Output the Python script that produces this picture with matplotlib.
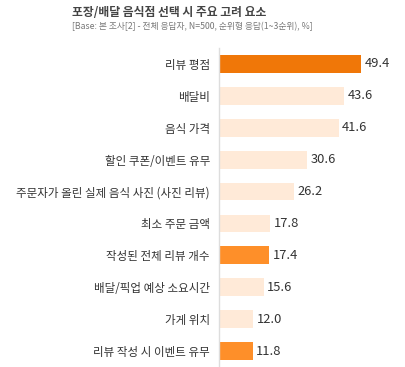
import matplotlib
matplotlib.use("Agg")
import matplotlib.pyplot as plt

plt.rcParams['font.family'] = ['Noto Sans CJK KR', 'DejaVu Sans']

categories = [
    "리뷰 평점",
    "배달비",
    "음식 가격",
    "할인 쿠폰/이벤트 유무",
    "주문자가 올린 실제 음식 사진 (사진 리뷰)",
    "최소 주문 금액",
    "작성된 전체 리뷰 개수",
    "배달/픽업 예상 소요시간",
    "가게 위치",
    "리뷰 작성 시 이벤트 유무",
]
values = [49.4, 43.6, 41.6, 30.6, 26.2, 17.8, 17.4, 15.6, 12.0, 11.8]
highlight = ["top", "pale", "pale", "pale", "pale", "pale", "mid", "pale", "pale", "mid"]

title = "포장/배달 음식점 선택 시 주요 고려 요소"
subtitle = "[Base: 본 조사[2] - 전체 응답자, N=500, 순위형 응답(1~3순위), %]"

color_map = {"top": "#F07708", "mid": "#FE8F29", "pale": "#FFEAD8"}

W, H = 406, 367
fig = plt.figure(figsize=(W / 100, H / 100), dpi=100)
ax = fig.add_axes([219 / W, 0.0, (400 - 219) / W, (367 - 48) / H])

ypos = list(range(len(categories)))
ax.barh(ypos, values, height=0.56, color=[color_map[h] for h in highlight])
for y, v in zip(ypos, values):
    ax.text(v + 1.2, y, f"{v:.1f}", va="center", ha="left", fontsize=9.3, color="#333333")

ax.set_yticks(ypos)
ax.set_yticklabels(categories, fontsize=8.3, color="#333333")
ax.tick_params(axis="y", length=0, pad=6.5)
ax.set_xticks([])
ax.set_xlim(0, 63)
ax.set_ylim(len(categories) - 0.5, -0.5)
for s in ["top", "right", "bottom"]:
    ax.spines[s].set_visible(False)
ax.spines["left"].set_color("#DDDDDD")
ax.spines["left"].set_linewidth(1)

fig.text(72 / W, 1 - 13 / H, title, fontsize=8.5, fontweight="bold", color="#444444", va="center", ha="left")
fig.text(72 / W, 1 - 27 / H, subtitle, fontsize=6.3, color="#777777", va="center", ha="left")

fig.savefig("out.png", dpi=100)
